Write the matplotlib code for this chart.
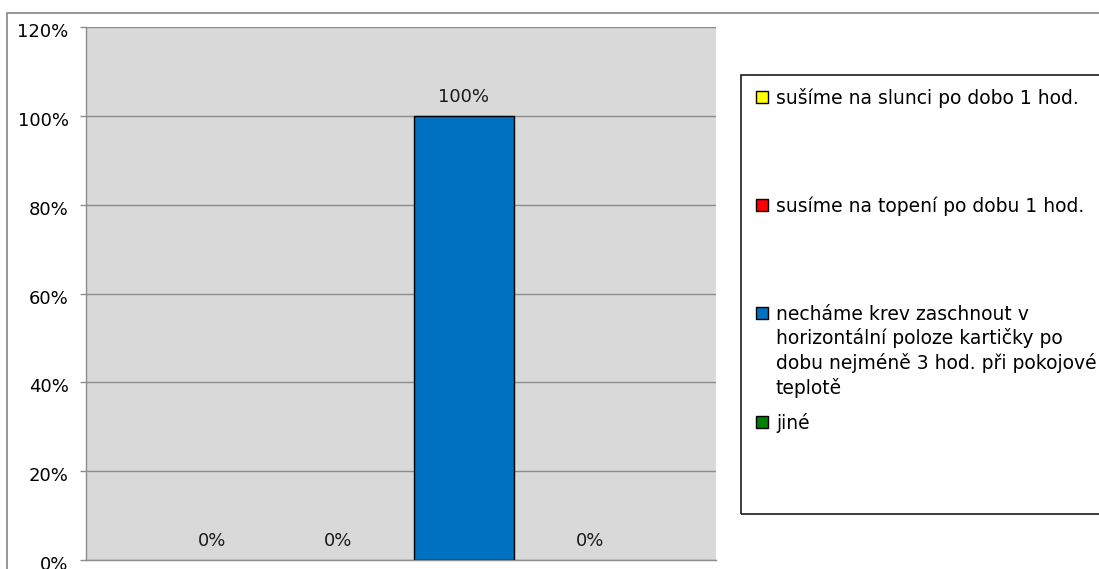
import matplotlib.pyplot as plt
from matplotlib.patches import Rectangle
from matplotlib.transforms import ScaledTranslation

plt.rcParams['font.family'] = ['DejaVu Sans']

# odpovědi a podíly
labels = ['sušíme na slunci po dobo 1 hod.',
          'susíme na topení po dobu 1 hod.',
          'necháme krev zaschnout v\nhorizontální poloze kartičky po\n'
          'dobu nejméně 3 hod. při pokojové\nteplotě',
          'jiné']
values = [0, 0, 100, 0]
colors = ['#FFFF00', '#FF0000', '#0070C0', '#008000']
yticks = [0, 20, 40, 60, 80, 100, 120]

W, H = 1099, 569
fig = plt.figure(figsize=(W / 100, H / 100), dpi=100)


def fx(px):
    return px / W


def fy(py):
    return 1 - py / H


# rámeček celého grafu
fig.patches.append(Rectangle((fx(7), fy(H + 20)), fx(W + 20), (H + 7) / H,
                             transform=fig.transFigure, fill=False,
                             edgecolor='#868686', lw=1.2))

ax = fig.add_axes([fx(86), fy(560), fx(630), (560 - 27) / H])
ax.set_facecolor('#D9D9D9')

x = range(len(values))
lws = [1.0 if v > 0 else 0 for v in values]
bars = ax.bar(x, values, width=100 / 126, color=colors,
              edgecolor='black', linewidth=lws, zorder=3)
for xi, v in zip(x, values):
    ax.annotate(f'{v}%', (xi, v), xytext=(0, 13.5), textcoords='offset points',
                ha='center', va='center', fontsize=13, color='#1a1a1a')

ax.set_xlim(-1, 4)
ax.set_ylim(0, 120)
ax.set_yticks(yticks)
ax.set_yticklabels([f'{t}%' for t in yticks], fontsize=13, color='black')
ax.set_xticks([])
ax.yaxis.grid(True, color='#8c8c8c', lw=1, zorder=0)
ax.tick_params(axis='y', length=4.5, width=1, color='#8c8c8c', pad=8)
shift = ScaledTranslation(0, -3 / 100, fig.dpi_scale_trans)
for lab in ax.get_yticklabels():
    lab.set_transform(lab.get_transform() + shift)
for s in ['top', 'right']:
    ax.spines[s].set_visible(False)
for s in ['left', 'bottom']:
    ax.spines[s].set_color('#8c8c8c')
    ax.spines[s].set_linewidth(1)

# legenda vpravo
fig.patches.append(Rectangle((fx(741), fy(514)), fx(400), (514 - 75) / H,
                             transform=fig.transFigure, fill=False,
                             edgecolor='#1a1a1a', lw=1.2))
centers = [97, 205, 313, 422]
for lab, col, cy in zip(labels, colors, centers):
    fig.patches.append(Rectangle((fx(756), fy(cy + 6)), fx(12), 12 / H,
                                 transform=fig.transFigure, facecolor=col,
                                 edgecolor='black', lw=1))
    for i, line in enumerate(lab.split('\n')):
        fig.text(fx(776), fy(cy + 7 + i * 24.5), line, fontsize=13.5,
                 va='baseline', ha='left', color='black')

fig.savefig('out.png', dpi=100)
